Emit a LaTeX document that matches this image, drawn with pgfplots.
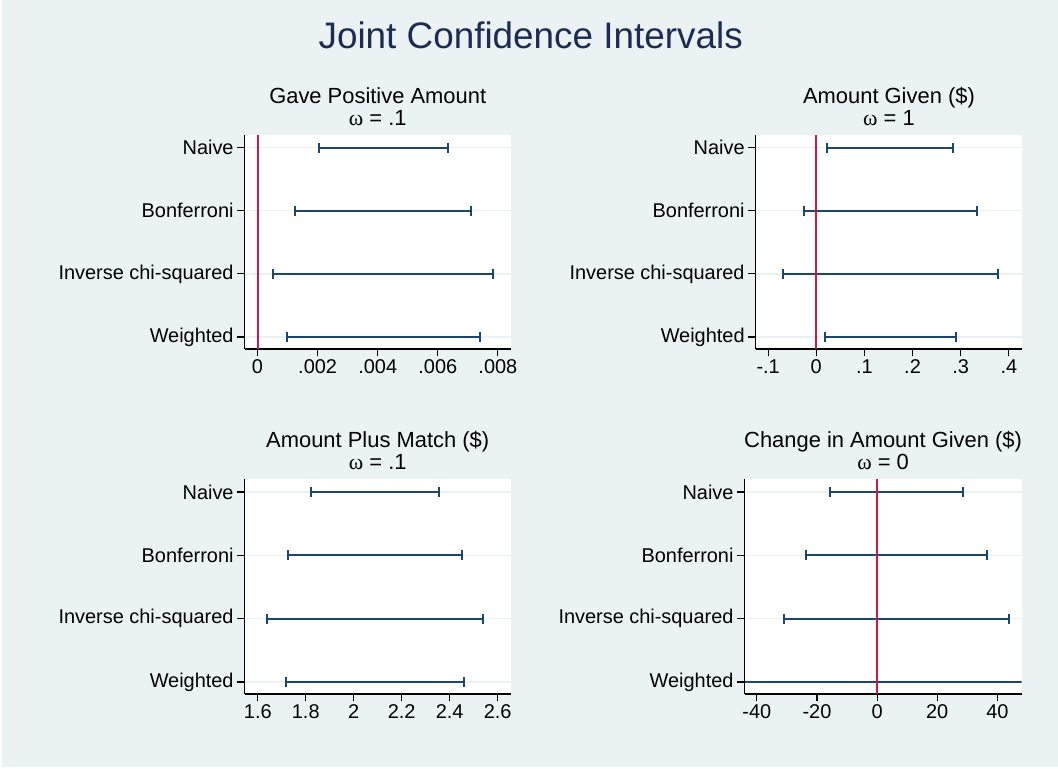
\documentclass[border=0pt]{standalone}
\usepackage{fontspec}
\setmainfont{Liberation Sans}
\newfontfamily\greekserif{Liberation Serif}
\usepackage{pgfplots}
\pgfplotsset{compat=1.18}

\definecolor{bgc}{RGB}{234,242,243}
\definecolor{navyc}{RGB}{26,71,111}
\definecolor{redc}{RGB}{214,22,60}
\definecolor{gridc}{RGB}{233,241,243}
\definecolor{titlec}{RGB}{28,44,84}

\pgfplotsset{
  ciplot/.style={
    scale only axis,
    ymin=0.81, ymax=4.2,
    ytick={1,2,3,4},
    yticklabels={Weighted,Inverse chi-squared,Bonferroni,Naive},
    axis x line*=bottom, axis y line*=left,
    tick align=outside, major tick length=7.5bp,
    axis line style={line width=1.2bp, black},
    every tick/.style={line width=1.2bp, black},
    ymajorgrids, major grid style={line width=1.5bp, gridc},
    axis background/.style={fill=white},
    tick label style={font=\fontsize{20}{22}\selectfont},
    scaled x ticks=false,
    clip=true,
  },
  ci/.style={navyc, line width=2bp, mark=|, mark size=5bp,
    mark options={line width=2bp, solid}},
  cinocap/.style={navyc, line width=2bp, mark=none},
  zl/.style={redc, line width=2bp, mark=none},
}

\newcommand{\ptitle}[3]{%
  \node[anchor=base, font=\fontsize{22}{24}\selectfont] at ([yshift=31.5bp]#1.north) {#2};
  \node[anchor=base, font=\fontsize{22}{24}\selectfont] at ([yshift=9.5bp]#1.north) {{\greekserif ω} = #3};
}

\begin{document}
\begin{tikzpicture}[x=1bp,y=1bp]
\path[use as bounding box] (0,0) rectangle (1058,769);
\fill[bgc] (2,2) rectangle (1058,769);

\node[anchor=base, font=\fontsize{37}{40}\selectfont, text=titlec] at (530.7,720.7) {Joint Confidence Intervals};

% Gave positive amount
\begin{axis}[ciplot, name=p1, at={(244.6bp,420bp)}, anchor=south west,
  width=266.2bp, height=214bp,
  xmin=-0.00043, xmax=0.00843,
  xtick={0,0.002,0.004,0.006,0.008},
  xticklabels={0,.002,.004,.006,.008}]
\addplot[ci] coordinates {(0.00203,4) (0.00634,4)};
\addplot[ci] coordinates {(0.00125,3) (0.00711,3)};
\addplot[ci] coordinates {(0.00053,2) (0.00785,2)};
\addplot[ci] coordinates {(0.00098,1) (0.00740,1)};
\addplot[zl] coordinates {(0,0.81) (0,4.2)};
\end{axis}
\ptitle{p1}{Gave Positive Amount}{.1}

% Amount given
\begin{axis}[ciplot, name=p2, at={(755.6bp,420bp)}, anchor=south west,
  width=266.7bp, height=214bp,
  xmin=-0.126, xmax=0.428,
  xtick={-0.1,0,0.1,0.2,0.3,0.4},
  xticklabels={-.1,0,.1,.2,.3,.4}]
\addplot[ci] coordinates {(0.0224,4) (0.285,4)};
\addplot[ci] coordinates {(-0.0245,3) (0.334,3)};
\addplot[ci] coordinates {(-0.070,2) (0.378,2)};
\addplot[ci] coordinates {(0.019,1) (0.290,1)};
\addplot[zl] coordinates {(0,0.81) (0,4.2)};
\end{axis}
\ptitle{p2}{Amount Given (\$)}{1}

% Amount plus match
\begin{axis}[ciplot, name=p3, at={(244.6bp,75bp)}, anchor=south west,
  width=266.2bp, height=214.7bp,
  xmin=1.545, xmax=2.655,
  xtick={1.6,1.8,2,2.2,2.4,2.6},
  xticklabels={1.6,1.8,2,2.2,2.4,2.6}]
\addplot[ci] coordinates {(1.820,4) (2.355,4)};
\addplot[ci] coordinates {(1.724,3) (2.450,3)};
\addplot[ci] coordinates {(1.638,2) (2.541,2)};
\addplot[ci] coordinates {(1.718,1) (2.459,1)};
\end{axis}
\ptitle{p3}{Amount Plus Match (\$)}{.1}

% Change in amount given
\begin{axis}[ciplot, name=p4, at={(744.5bp,75bp)}, anchor=south west,
  width=277.1bp, height=214.7bp,
  xmin=-44.1, xmax=48.07,
  xtick={-40,-20,0,20,40},
  xticklabels={-40,-20,0,20,40}]
\addplot[ci] coordinates {(-15.8,4) (28.6,4)};
\addplot[ci] coordinates {(-23.6,3) (36.5,3)};
\addplot[ci] coordinates {(-31.1,2) (43.9,2)};
\addplot[cinocap] coordinates {(-60,1) (60,1)};
\addplot[zl] coordinates {(0,0.81) (0,4.2)};
\end{axis}
\ptitle{p4}{Change in Amount Given (\$)}{0}
\end{tikzpicture}
\end{document}
